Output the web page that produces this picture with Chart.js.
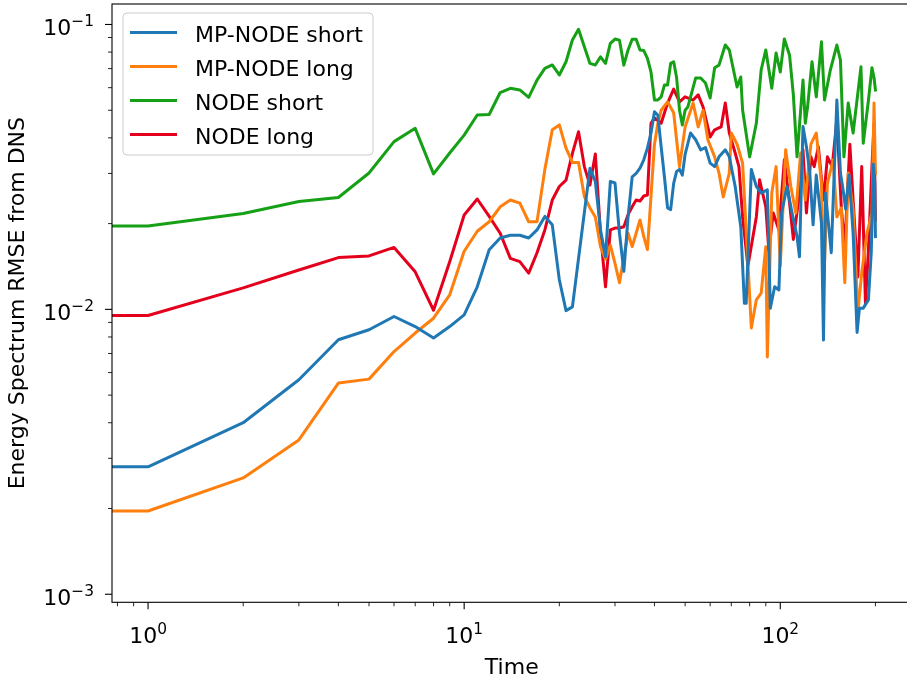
<!DOCTYPE html>
<html>
<head>
<meta charset="utf-8">
<script src="https://cdn.jsdelivr.net/npm/chart.js@4.4.1/dist/chart.umd.min.js"></script>
<style>
  html, body { margin: 0; padding: 0; background: #fff; overflow: hidden; }
  canvas { display: block; }
</style>
</head>
<body>
<canvas id="grafico" width="920" height="677"></canvas>
<script>
// Dados (tempo, erro); t = 0 fica fora do eixo log
const tempoMpCurto = [0,1,2,3,4,5,6,7,8,9,10,11,12,13,14,15,16,17,18,19,20,21,22,
    25,26,27,28,29,30,31,32,33,34,35,36,37,38,39,40,41,42,43,44,45,46,47,48,49,50,
    52,54,56,58,60,62,64,67,69,72,75,77,78,81,84,87,91,93,96,99,
    101,105,109,113,115,118,121,124,127,130,135,137,139,145,151,155,158,161,165,
    170,175,178,183,190,194,197,199,200];
const erroMpCurto = [0.0028,0.0028,0.0040,0.00566,0.00782,0.00848,0.00944,0.0087,0.00794,0.0087,
    0.00956,0.0120,0.0162,0.0178,0.0182,0.0182,0.0178,0.0190,0.0212,0.0198,0.0127,0.0099,0.0102,
    0.0313,0.0281,0.0190,0.0153,0.0281,0.0278,0.0185,0.0136,0.0211,0.0292,0.0300,0.0313,0.0335,
    0.0368,0.0416,0.0494,0.0480,0.0372,0.0292,0.0227,0.0224,0.0277,0.0305,0.0310,0.0296,0.0350,
    0.0416,0.0394,0.0363,0.0370,0.0326,0.0317,0.0343,0.0363,0.0343,0.0270,0.0195,0.0105,0.0105,
    0.0310,0.0270,0.0256,0.0263,0.0101,0.0120,0.0117,
    0.0218,0.0270,0.0218,0.0180,0.0153,0.0438,0.0372,0.0301,0.0198,0.0296,0.0201,0.0078,0.0256,
    0.0158,0.0543,0.0301,0.0263,0.0225,0.0296,
    0.0185,0.0083,0.0101,0.0101,0.0108,0.0158,0.0323,0.0280,0.0180];

const tempoMpLongo = [0,1,2,3,4,5,6,7,8,9,10,11,12,13,14,15,16,17,18,19,20,21,22,23,24,25,26,27,28,29,
    30,31,32,33,34,35,36,37,38,40,41,42,44,46,48,50,
    53,55,57,59,62,64,66,69,70,73,76,79,81,84,87,90,91,94,97,100,
    104,108,112,116,120,125,130,135,137,141,147,151,156,160,164,170,176,181,188,195,198,200];
const erroMpLongo = [0.00196,0.00196,0.00256,0.00348,0.00551,0.00569,0.00711,0.00826,0.00931,0.01125,
    0.0160,0.0188,0.0203,0.0229,0.0242,0.0236,0.0203,0.0203,0.0310,0.0427,
    0.0444,0.0368,0.0328,0.0328,0.0249,0.0227,0.0211,0.0166,0.0150,0.0168,
    0.0145,0.0124,0.0153,0.0185,0.0166,0.0185,0.0206,0.0180,0.0162,
    0.0380,0.0450,0.0500,0.0535,0.0490,0.0317,0.0437,
    0.0530,0.0437,0.0500,0.0394,0.0343,0.0301,0.0248,0.0301,0.0416,
    0.0380,0.0326,0.0146,0.0086,0.0108,0.0114,0.0166,0.0068,0.0256,0.0317,0.0142,
    0.0363,0.0270,0.0218,0.0354,0.0242,0.0380,0.0416,0.0277,0.0117,0.0277,0.0335,0.0211,0.0227,
    0.0124,0.0301,0.0224,0.0098,0.0134,0.0185,0.0218,0.0530,0.0300];

const tempoNodeCurto = [0,1,2,3,4,5,6,7,8,9,10,11,12,13,14,15,16,17,18,19,20,21,22,23,24,25,
    26,27,28,29,30,31,32,33,34,35,36,37,38,39,40,41,42,43,44,45,46,47,48,49,50,
    51,54,56,58,60,62,64,67,69,73,75,76,80,84,87,90,94,97,100,103,
    107,110,113,118,120,122,126,130,135,138,144,151,155,159,164,170,180,183,190,195,198,200];
const erroNodeCurto = [0.0196,0.0196,0.0217,0.0239,0.0247,0.0301,0.0388,0.0432,0.0299,0.0354,
    0.0409,0.0481,0.0483,0.0577,0.0597,0.0589,0.0555,0.0638,0.0701,0.0721,
    0.0665,0.0740,0.0882,0.0962,0.0835,0.0730,0.0721,0.0770,0.0730,0.0859,
    0.0889,0.0880,0.0720,0.0814,0.0887,0.0887,0.0814,0.0810,0.0760,0.0680,
    0.0543,0.0543,0.0557,0.0613,0.0613,0.0730,0.0740,0.0650,0.0500,0.0444,0.0500,
    0.0513,0.0649,0.0649,0.0623,0.0552,0.0705,0.0720,0.0847,0.0814,0.0603,
    0.0654,0.0501,0.0343,0.0450,0.0692,0.0814,0.0597,0.0794,0.0681,0.0890,
    0.0780,0.0566,0.0343,0.0638,0.0450,0.0513,0.0740,0.0557,0.0869,0.0543,
    0.0692,0.0847,0.0750,0.0343,0.0530,0.0416,0.0710,0.0383,0.0540,0.0705,0.0650,0.0589];

const tempoNodeLongo = [0,1,2,3,4,5,6,7,8,9,10,11,12,13,14,15,16,17,18,19,20,21,22,23,24,25,
    26,27,28,29,30,31,32,33,34,35,36,37,38,39,40,42,44,46,48,50,
    53,55,57,60,62,65,67,69,72,74,76,79,84,86,90,92,95,99,103,107,
    110,114,118,121,125,128,132,137,141,146,151,156,160,166,170,176,181,186,190,195,198,200];
const erroNodeLongo = [0.00952,0.00952,0.0119,0.01375,0.0152,0.0154,0.0165,0.01355,0.00993,0.0147,
    0.02145,0.0244,0.0212,0.0185,0.0151,0.0147,0.0134,0.0158,0.0190,0.0242,
    0.0270,0.0284,0.0353,0.0420,0.0317,0.0273,0.0351,0.0185,0.0120,0.0190,
    0.0193,0.0193,0.0195,0.0215,0.0229,0.0242,0.0240,0.0250,0.0252,0.0450,
    0.0470,0.0450,0.0530,0.0593,0.0535,0.0557,
    0.0543,0.0566,0.0513,0.0403,0.0427,0.0437,0.0530,0.0416,0.0354,0.0317,
    0.0211,0.0142,0.0211,0.0285,0.0229,0.0161,0.0218,0.0190,0.0335,0.0236,
    0.0176,0.0236,0.0363,0.0218,0.0343,0.0317,0.0372,0.0242,0.0343,0.0317,
    0.0463,0.0227,0.0166,0.0380,0.0242,0.0130,0.0317,0.0105,0.0161,0.0317,0.0450,0.0206];

const rotulos = ['MP-NODE short', 'MP-NODE long', 'NODE short', 'NODE long'];
const cores = ['#1f77b4', '#ff7f0e', '#16a016', '#e4001c'];

const fonte = 'DejaVu Sans, sans-serif';
const tamanho = 22;

// log não mostra t = 0: vai para bem à esquerda, como o matplotlib faz
function pontos(tempos, erros) {
    return tempos.map((t, i) => ({ x: t === 0 ? 1e-3 : t, y: erros[i] }));
}

function serie(i, tempos, erros) {
    return {
        label: rotulos[i],
        data: pontos(tempos, erros),
        borderColor: cores[i],
        backgroundColor: cores[i],
        borderWidth: 3,
        borderCapStyle: 'square',
        borderJoinStyle: 'round',
        pointRadius: 0,
        tension: 0,
        clip: 0
    };
}

// 10 com expoente
function potencia(ctx, exp, x, base, alinhar) {
    const sup = exp < 0 ? '\u2212' + (-exp) : String(exp);
    ctx.font = tamanho + 'px ' + fonte;
    const wb = ctx.measureText('10').width;
    ctx.font = (tamanho * 0.7) + 'px ' + fonte;
    const ws = ctx.measureText(sup).width;
    const x0 = alinhar === 'center' ? x - (wb + ws) / 2 : x - (wb + ws);
    ctx.textAlign = 'left';
    ctx.textBaseline = 'alphabetic';
    ctx.font = tamanho + 'px ' + fonte;
    ctx.fillText('10', x0, base);
    ctx.font = (tamanho * 0.7) + 'px ' + fonte;
    ctx.fillText(sup, x0 + wb, base - tamanho * 0.42);
}

// Eixos no estilo matplotlib
const eixos = {
    id: 'eixos',
    afterDatasetsDraw(chart) {
        const { ctx, chartArea: a, scales: { x, y } } = chart;
        ctx.save();
        ctx.fillStyle = '#000';
        ctx.strokeStyle = '#000';
        for (let d = -1; d <= 2; d++) {
            for (let m = 1; m <= 9; m++) {
                const v = m * Math.pow(10, d);
                if (v < x.min || v > x.max) continue;
                const px = x.getPixelForValue(v);
                ctx.lineWidth = m === 1 ? 1.1 : 0.85;
                ctx.beginPath();
                ctx.moveTo(px, a.bottom);
                ctx.lineTo(px, a.bottom + (m === 1 ? 7 : 4));
                ctx.stroke();
                if (m === 1) potencia(ctx, d, px, a.bottom + 41, 'center');
            }
        }
        for (let d = -4; d <= -1; d++) {
            for (let m = 1; m <= 9; m++) {
                const v = m * Math.pow(10, d);
                if (v < y.min || v > y.max) continue;
                const py = y.getPixelForValue(v);
                ctx.lineWidth = m === 1 ? 1.1 : 0.85;
                ctx.beginPath();
                ctx.moveTo(a.left, py);
                ctx.lineTo(a.left - (m === 1 ? 7 : 4), py);
                ctx.stroke();
                if (m === 1) potencia(ctx, d, a.left - 18, py + 11, 'right');
            }
        }
        ctx.lineWidth = 1.1;
        ctx.strokeRect(a.left, a.top, a.right - a.left, a.bottom - a.top);

        ctx.font = tamanho + 'px ' + fonte;
        ctx.textAlign = 'center';
        ctx.textBaseline = 'alphabetic';
        ctx.fillText('Time', (a.left + a.right) / 2, 674);
        ctx.translate(24, (a.top + a.bottom) / 2);
        ctx.rotate(-Math.PI / 2);
        ctx.fillText('Energy Spectrum RMSE from DNS', 0, 0);
        ctx.restore();
    }
};

// Legenda dentro do gráfico, canto superior esquerdo
const legenda = {
    id: 'legenda',
    afterDraw(chart) {
        const ctx = chart.ctx;
        const x0 = 123, y0 = 13, w = 250, h = 142, r = 4;
        ctx.save();
        ctx.beginPath();
        ctx.roundRect(x0, y0, w, h, r);
        ctx.fillStyle = 'rgba(255,255,255,0.8)';
        ctx.fill();
        ctx.strokeStyle = '#cccccc';
        ctx.lineWidth = 1;
        ctx.stroke();
        ctx.font = tamanho + 'px ' + fonte;
        ctx.textAlign = 'left';
        ctx.textBaseline = 'alphabetic';
        chart.data.datasets.forEach((ds, i) => {
            const yy = 32.5 + i * 34;
            ctx.strokeStyle = ds.borderColor;
            ctx.lineWidth = 3;
            ctx.lineCap = 'butt';
            ctx.beginPath();
            ctx.moveTo(130, yy);
            ctx.lineTo(177, yy);
            ctx.stroke();
            ctx.fillStyle = '#000';
            ctx.fillText(ds.label, 195, yy + 9);
        });
        ctx.restore();
    }
};

window.onload = function() {
    const tela = document.getElementById('grafico');
    new Chart(tela, {
        type: 'line',
        data: {
            datasets: [
                serie(0, tempoMpCurto, erroMpCurto),
                serie(1, tempoMpLongo, erroMpLongo),
                serie(2, tempoNodeCurto, erroNodeCurto),
                serie(3, tempoNodeLongo, erroNodeLongo)
            ]
        },
        options: {
            responsive: false,
            animation: false,
            devicePixelRatio: 1,
            layout: { padding: { left: 112, top: 4, right: 8.5, bottom: 74.7 } },
            plugins: { legend: { display: false }, tooltip: { enabled: false } },
            scales: {
                x: { type: 'logarithmic', min: 0.769, max: 260.1, display: false },
                y: { type: 'logarithmic', min: 0.000937, max: 0.118, display: false }
            }
        },
        plugins: [eixos, legenda]
    });
};
</script>
</body>
</html>
